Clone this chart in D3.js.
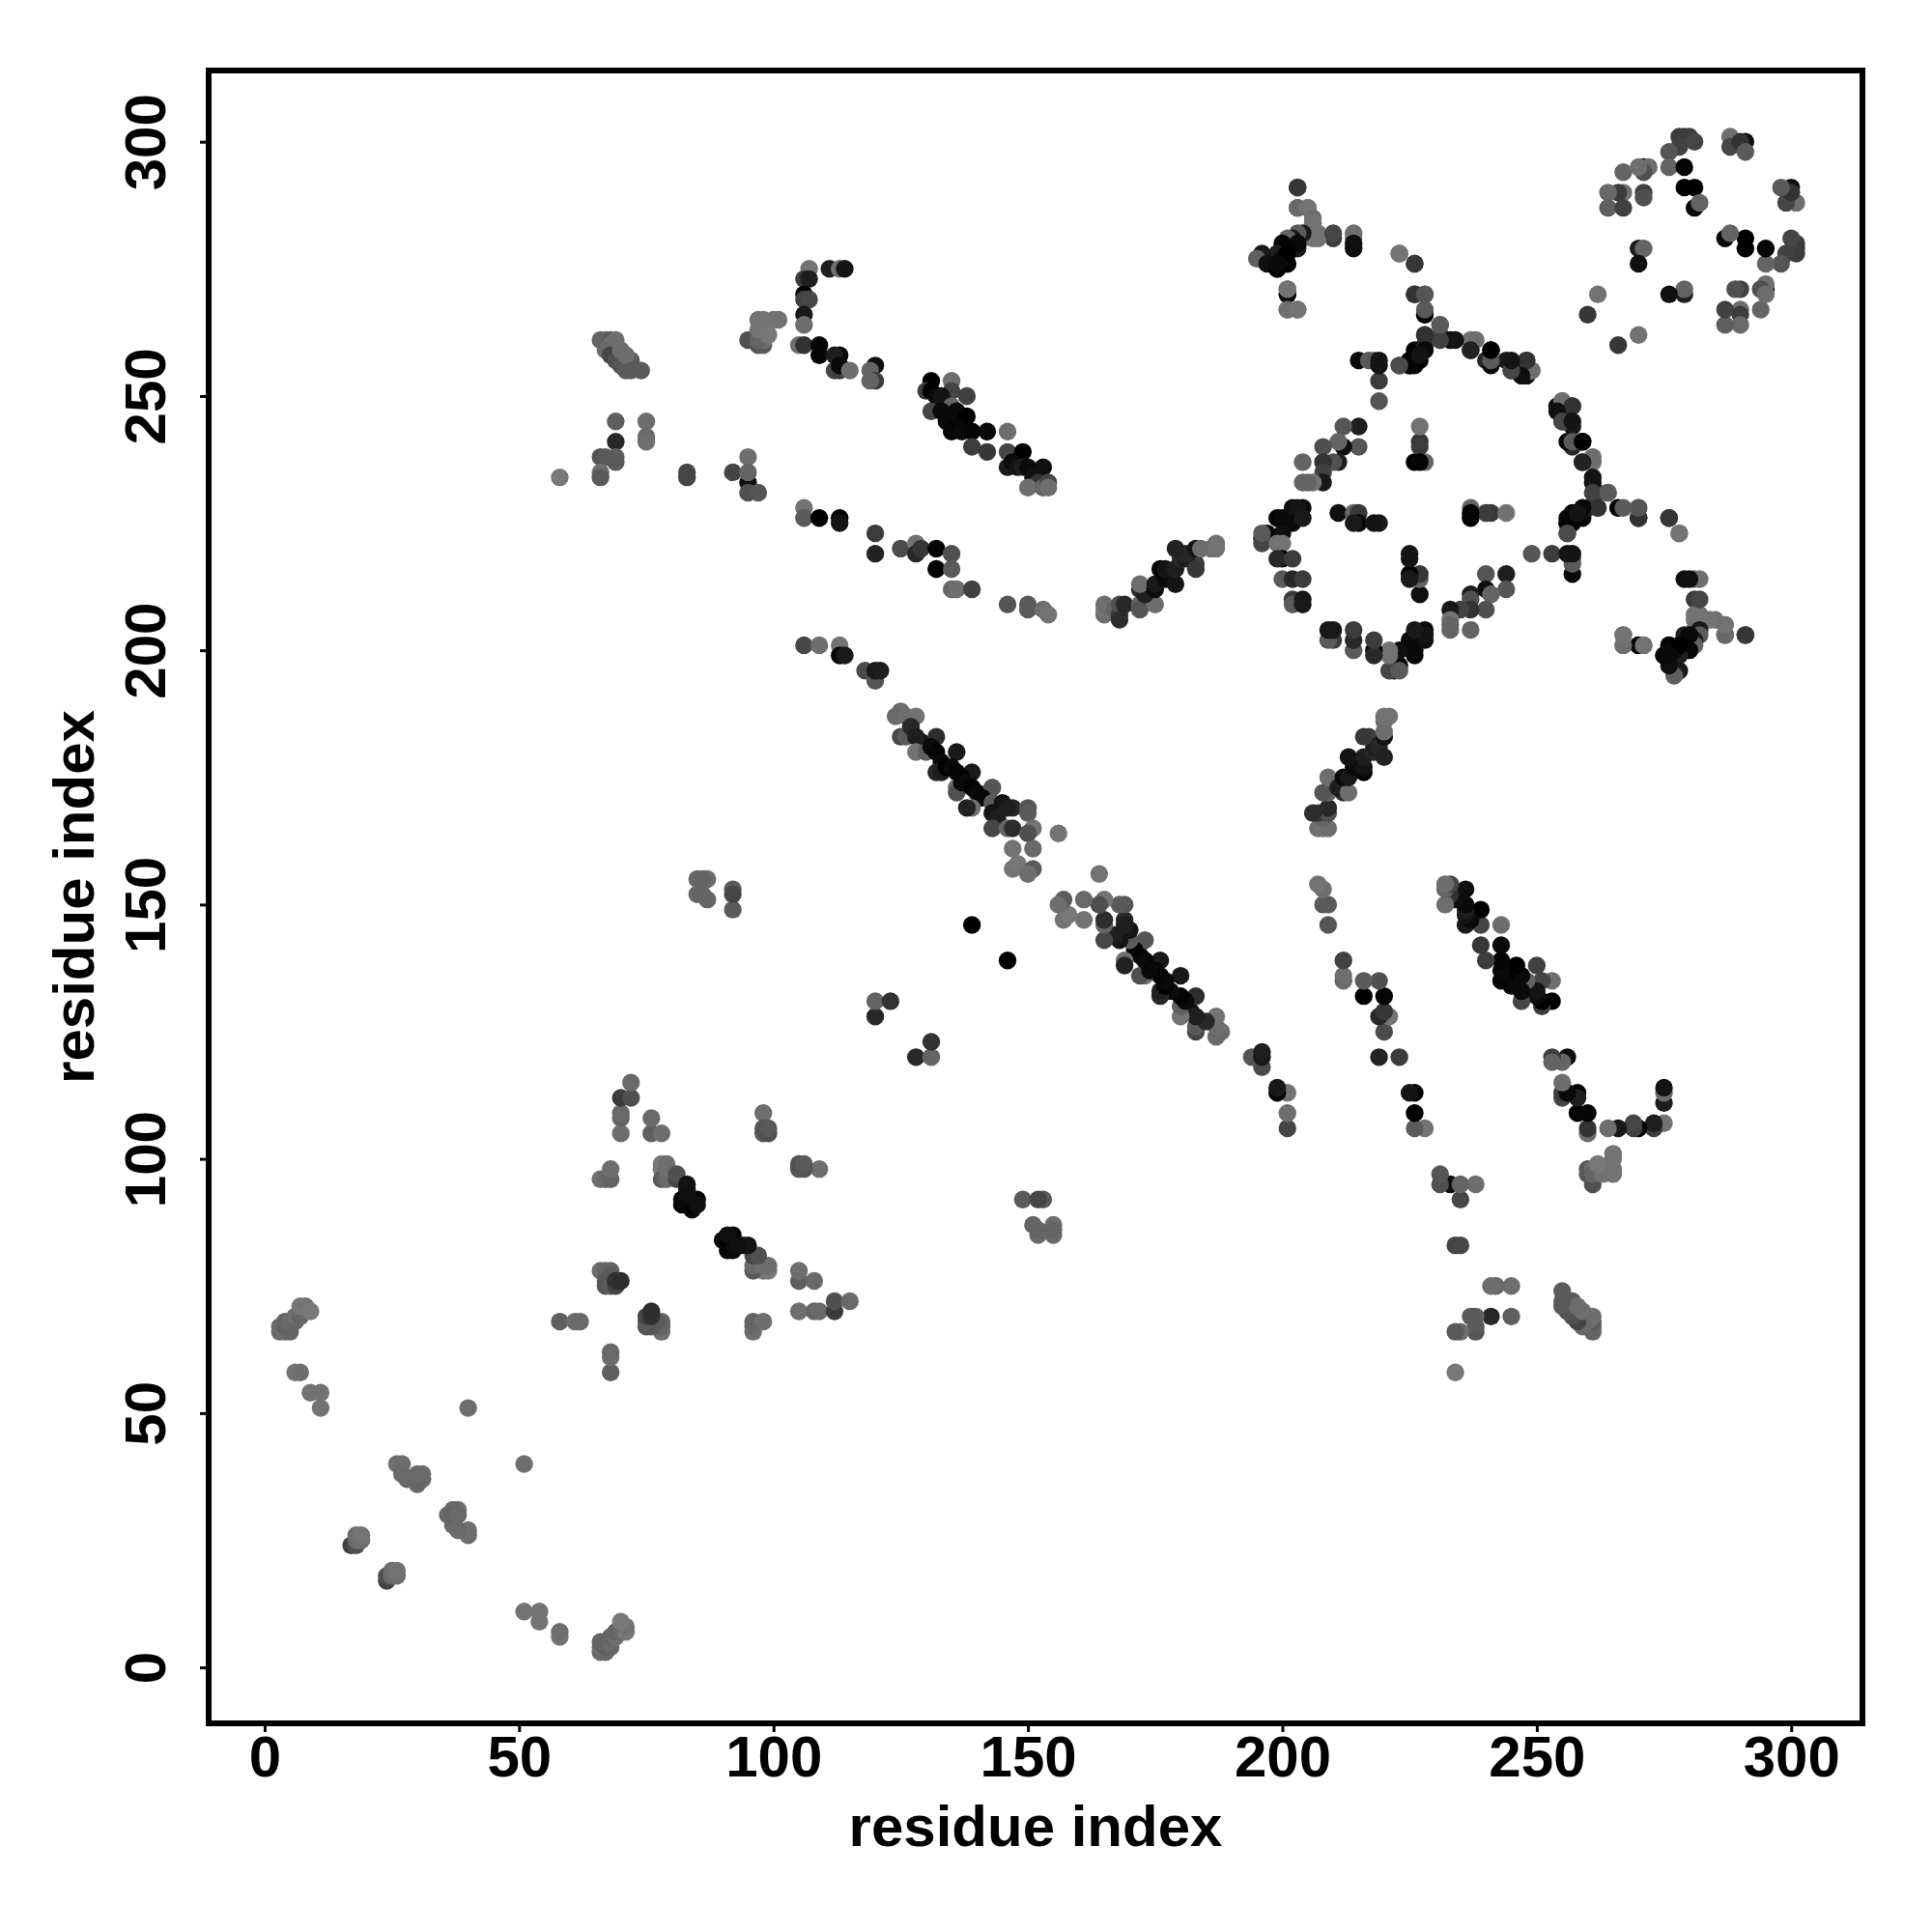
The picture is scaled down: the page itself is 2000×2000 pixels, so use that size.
<!DOCTYPE html>
<html><head><meta charset="utf-8">
<style>html,body{margin:0;padding:0;background:#fff}svg{display:block}text{font-family:"Liberation Sans",Arial,sans-serif;font-weight:700;fill:#000}</style>
<script src="https://cdn.jsdelivr.net/npm/d3@7"></script>
</head><body><div id="chart"></div>
<script>
// Contacts as [residue i, residue j, grey level]; the map is symmetric.
const nTerminal=[[3,66,105],[3,67,105],[4,66,110],[4,67,95],[4,68,100],[5,66,100],[5,68,105],[6,68,100],[6,69,110],[7,69,100],[7,70,105],[7,71,120],[8,71,115],[9,70,120],
[6,58,115],[7,58,110],[9,54,115],[11,54,115],[11,51,115],[40,51,110],
[26,40,110],[27,40,110],[27,38,105],[28,37,105],[30,36,105],[31,38,110],[31,37,105],[30,37,100],[30,38,105],
[17,24,65],[18,24,80],[18,25,105],[19,25,110],[18,26,110],[19,26,115]];
const earlyContacts=[[58,68,95],[61,68,110],[62,68,105],[66,78,110],[67,78,100],[68,78,100],[68,77,90],[67,76,90],[67,75,85],[68,75,90],[69,75,70],[69,76,50],[70,76,45],
[66,96,110],[67,96,105],[68,96,100],[68,98,110],[70,105,110],[70,108,100],[70,109,105],[70,112,60],[72,112,80],[72,115,105],[76,105,95],[78,105,110],[76,108,105],
[78,98,120],[78,99,120],[79,99,110],[78,96,90],[79,96,105],[79,98,110],[81,96,70],[81,97,80],[83,94,25],[83,95,20],[82,91,5],[84,90,10],[84,91,0],[85,92,5],[85,91,15],[82,92,10],[83,93,15],
[85,155,105],[87,155,110],[86,155,100],[85,152,105],[87,151,100],[86,152,100],[92,149,90],[92,153,90],[92,152,70],
[98,105,90],[99,105,80],[98,109,110],[98,106,85],[99,106,90],[120,128,40],[120,131,100],[123,131,50],[139,146,0]];
const centralBand=[[125,188,110],[124,187,105],[126,187,110],[128,187,115],[125,183,70],[126,183,90],[127,185,40],[129,182,20],[128,183,30],[132,183,45],[128,180,115],[130,180,95],[131,181,10],[132,180,5],[136,180,25],[133,178,10],[132,176,40],[133,176,30],[134,177,0],[135,177,10],[136,176,5],[139,176,25],[137,175,5],[136,173,110],[136,172,80],[137,174,10],[139,173,5],[140,172,10],[143,173,85],[141,171,5],[139,169,110],[138,169,35],[143,170,90],[143,168,20],[145,170,20],[144,167,30],[147,169,40],[146,169,30],[150,169,85],[150,168,90],[143,165,70],[146,165,100],[147,165,45],[151,165,115],[150,164,80],[156,164,115],[147,161,115],[151,161,105],[147,157,115],[148,158,120],[151,157,90],[150,156,110],
[106,201,70],[109,201,110],[113,201,115],[113,199,5],[114,199,25],[118,196,75],[120,194,85],[120,196,25],[121,196,30]];
const midBand=[[106,228,115],[106,226,90],[109,226,0],[113,226,0],[113,225,20],[120,223,60],[120,219,35],[125,220,75],[128,221,115],[128,219,40],[129,220,55],[132,220,5],[132,216,0],[135,219,80],[135,216,90],[135,212,105],[136,212,110],[139,212,65],[146,209,85],[150,209,90],[150,208,90],[153,208,110],[154,207,115],
[165,207,110],[165,208,115],[165,209,110],[167,208,100],[168,207,60],[168,209,80],[168,206,45],[169,209,40],[172,209,100],[172,208,85],[175,209,110],[172,212,45],[173,211,30],[172,213,110],[175,212,10],[175,213,25],[176,216,5],[177,214,10],[177,216,20],[179,213,20],[179,216,30],[183,217,65],[180,218,40],[181,218,30],[181,219,40],[179,220,35],[183,220,20],[183,216,55],[184,220,110],[186,220,110],[187,221,115],[187,220,115]];
const upperBand=[[131,253,0],[130,251,60],[131,251,0],[135,253,110],[135,251,70],[132,250,10],[133,250,20],[138,250,65],[131,247,70],[135,248,100],[136,247,10],[138,246,0],[133,247,10],[134,245,10],[136,244,5],[135,243,5],[137,243,10],[139,243,5],[142,243,10],[146,243,110],[139,240,60],[142,239,55],[146,239,70],[149,239,0],[146,236,25],[147,237,10],[148,236,20],[149,236,30],[150,236,10],[153,236,15],[151,234,15],[152,233,50],[150,232,110],[153,232,100],[154,233,70],[154,232,110],
[107,275,115],[111,275,30],[113,275,110],[114,275,20],[106,273,60],[107,273,30],[106,270,5],[106,269,65],[107,269,70],[106,266,25],[106,264,110],
[95,261,80],[97,260,85],[98,260,90],[98,261,110],[97,261,100],[97,265,115],[98,265,115],[100,265,115],[101,265,115],[97,263,115],[98,264,115],[99,262,120],
[105,260,110],[106,260,50],[109,260,5],[109,258,5],[113,258,0],[112,258,30],[112,255,70],[113,255,60],[113,256,10],[115,255,110],[120,256,15],[119,255,100],[120,253,60],[119,253,100],
[66,261,100],[67,261,100],[68,261,90],[69,261,110],[68,260,110],[67,259,105],[68,258,70],[69,257,80],[70,256,85],[71,255,90],[72,257,90],[71,258,110],[70,259,110],[74,255,90],[72,255,90],
[69,245,95],[75,245,110],[69,241,40],[75,242,105],[75,241,110],[66,238,85],[69,238,95],[69,237,90],[67,238,90],[66,235,110],[66,234,90],[58,234,120],[83,235,70],[83,234,70],[92,235,70],[95,238,110],[95,233,15],[95,235,100],[95,231,80],[97,231,85]];
const ringLeft=[[199,226,5],[200,226,10],[202,228,15],[204,228,10],[203,228,20],[201,225,10],[202,225,10],[204,226,25],[197,223,5],[196,222,30],[200,223,15],[196,221,70],[196,223,90],[199,221,115],[200,221,115],[200,218,5],[199,218,40],[202,218,60],[200,214,90],[202,214,40],[204,214,60],[202,210,60],[202,209,90],[204,210,25],[204,209,25],
[211,227,15],[214,227,100],[215,227,55],[215,225,5],[214,225,25],[219,225,25],[218,225,20],[228,237,100],[226,237,0],[227,241,55],[227,240,60],[227,244,115],[227,237,5],
[219,249,85],[219,253,60],[215,257,10],[217,257,90],[218,257,90],[219,257,20],[219,256,20],
[215,240,85],[215,244,30],[212,244,85],[212,240,15],[211,241,100],[211,237,30],[210,237,80],[208,240,80],[208,237,50],[208,235,65],[208,233,25],[206,233,115],[205,233,100],[204,233,100],[204,237,100]];
const ringRight=[[223,256,75],[225,256,5],[225,257,5],[226,259,5],[227,258,15],[226,256,10],[228,262,55],[228,260,30],[231,264,110],[231,262,75],[233,261,15],[237,261,115],[237,259,20],[241,259,0],[240,257,40],[244,257,25],[248,257,70],[245,255,70],[248,254,15],[249,255,110],[248,256,25],
[255,249,110],[257,248,50],[254,247,15],[255,245,70],[257,245,20],[256,241,10],[257,241,90],[259,241,0],[261,238,110],[259,237,35],[261,234,20],[261,231,65],[264,231,90],[262,228,50],[259,228,10],[257,227,0],[256,225,5],[256,223,75],[258,226,5],[258,227,20],[266,228,90],[270,228,85],[270,226,30],[276,226,50],[278,223,110],
[279,214,15],[281,214,105],[281,210,60],[281,206,115],[284,206,115],[287,205,110],[287,203,85],[291,203,45],[281,203,40],[280,203,20],[279,203,30],[281,204,110],[278,200,5],[276,201,0],[275,199,5],[277,197,25],[277,196,90],[279,201,10],[267,203,110],[267,201,115],[270,201,0],[271,201,105],[277,199,10]];
const cornerUpperLeft=[[203,291,55],[203,287,105],[205,287,115],[206,285,110],[206,284,115],[207,282,115],[207,281,115],[210,282,70],[214,282,110],[214,280,15],[204,282,25],[203,282,90],[202,281,25],[201,281,100],[203,280,10],[200,280,5],[201,279,5],[199,278,30],[196,278,25],[195,277,95],[197,276,15],[199,275,0],[201,276,5],[200,277,10],[201,278,0],[199,276,10],[201,270,5],[201,271,115],[201,267,110],[203,267,115],
[223,278,115],[226,276,55],[226,270,50],[228,270,85],[228,266,5],[228,267,90]];
const cornerUpperRight=[[288,301,110],[288,299,70],[291,300,15],[290,300,50],[291,298,90],[278,301,60],[279,301,60],[280,301,60],[281,300,70],[278,299,65],[276,298,85],[276,295,100],[279,295,5],[279,291,0],[281,291,0],[281,287,10],[282,288,100],[271,295,15],[272,295,110],[271,294,80],[267,294,100],[270,295,110],[267,290,110],[271,290,65],[266,290,60],[264,290,105],[264,287,95],[267,287,65],[271,289,80],[270,279,30],[271,279,100],[270,276,15],[262,270,115],[260,266,55]];

const contacts=[nTerminal,earlyContacts,centralBand,midBand,upperBand,ringLeft,ringRight,cornerUpperLeft,cornerUpperRight].flat();
const tickValues=[0,50,100,150,200,250,300];
const axisTitle="residue index";

const W=2000,H=2000,L=216,R=1928,T=73,B=1784;
const x=d3.scaleLinear().domain([-11,314]).range([L,R]);
const y=d3.scaleLinear().domain([-11,314]).range([B,T]);
const svg=d3.select("#chart").append("svg").attr("width",W).attr("height",H);
svg.append("rect").attr("width",W).attr("height",H).attr("fill","#fff");

const pts=contacts.flatMap(([i,j,g])=>[{a:i,b:j,g},{a:j,b:i,g}]);
svg.append("g").selectAll("circle").data(pts).join("circle")
  .attr("cx",d=>x(d.a)).attr("cy",d=>y(d.b)).attr("r",9.2)
  .attr("fill",d=>d3.rgb(d.g,d.g,d.g));

svg.append("rect").attr("x",L).attr("y",T).attr("width",R-L).attr("height",B-T)
  .attr("fill","none").attr("stroke","#000").attr("stroke-width",6);

const xa=svg.append("g").attr("transform",`translate(0,${B})`)
  .call(d3.axisBottom(x).tickValues(tickValues).tickSize(9).tickSizeOuter(0).tickPadding(0));
const ya=svg.append("g").attr("transform",`translate(${L},0)`)
  .call(d3.axisLeft(y).tickValues(tickValues).tickSize(9).tickSizeOuter(0).tickPadding(0));
[xa,ya].forEach(g=>{g.select(".domain").remove();
  g.selectAll(".tick line").attr("stroke","#000").attr("stroke-width",3);
  g.selectAll(".tick text").attr("font-size",60).style("font-family",'"Liberation Sans",Arial,sans-serif').style("font-weight",700).attr("fill","#000");});
xa.selectAll(".tick text").attr("y",55).attr("dy",0);
ya.selectAll(".tick text").attr("x",0).attr("dy",0).attr("text-anchor","middle")
  .attr("transform","translate(-45,0) rotate(-90)");

svg.append("text").attr("x",(L+R)/2).attr("y",1911).attr("text-anchor","middle").attr("font-size",60).text(axisTitle);
svg.append("text").attr("transform",`translate(97,${(T+B)/2}) rotate(-90)`).attr("text-anchor","middle").attr("font-size",60).text(axisTitle);
</script></body></html>
